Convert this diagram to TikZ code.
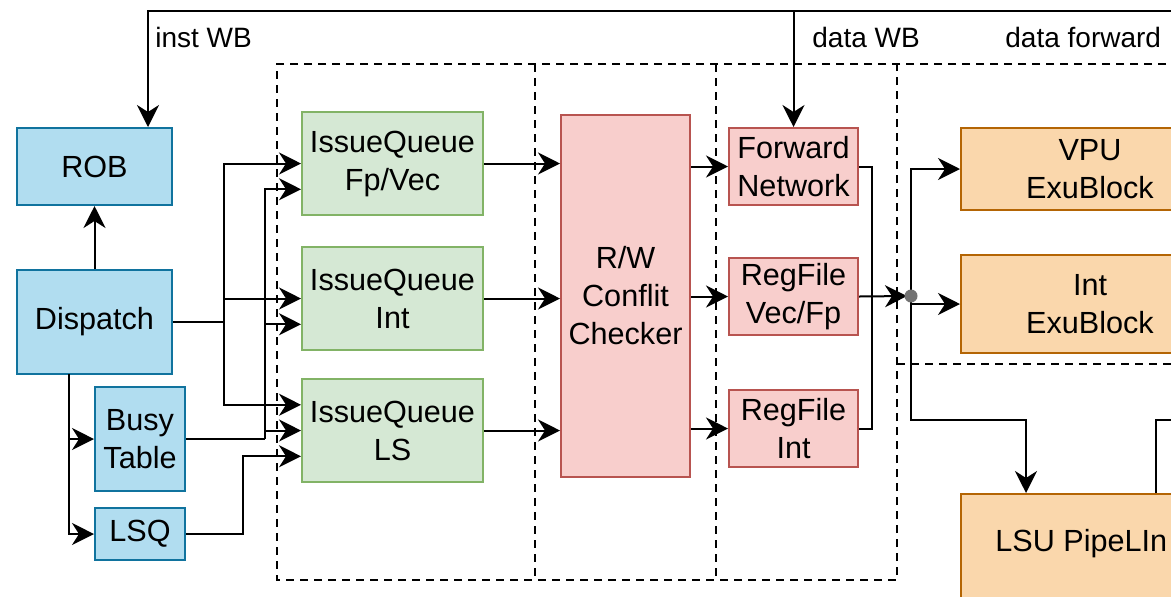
\documentclass[tikz,border=0pt]{standalone}
\usepackage{fontspec}
\setmainfont{Liberation Sans}
\usepackage{xcolor}
\usetikzlibrary{arrows.meta,calc}

\definecolor{blfill}{HTML}{B1DDF0}
\definecolor{bldraw}{HTML}{10739E}
\definecolor{gnfill}{HTML}{D5E8D4}
\definecolor{gndraw}{HTML}{82B366}
\definecolor{rdfill}{HTML}{F8CECC}
\definecolor{rddraw}{HTML}{B85450}
\definecolor{orfill}{HTML}{FAD7AC}
\definecolor{ordraw}{HTML}{B46504}

\begin{document}
\begin{tikzpicture}[x=0.5pt,y=-0.5pt,
            blk/.style = {draw, line width=1pt, align=center, inner sep=0pt,
                        font=\fontsize{15.3}{19}\selectfont},
            ctl/.style = {blk, fill=blfill, draw=bldraw},
            iq/.style = {blk, fill=gnfill, draw=gndraw,
                        minimum width=90.5pt, minimum height=51.5pt},
            rf/.style = {blk, fill=rdfill, draw=rddraw,
                        minimum width=64.5pt, minimum height=38.5pt},
            exu/.style = {blk, fill=orfill, draw=ordraw, minimum width=129pt},
            lbl/.style = {anchor=west, inner sep=0pt,
                        font=\fontsize{14}{17}\selectfont},
            arr/.style = {line width=1pt,
                        -{Stealth[length=11pt,width=11pt,inset=3.5pt]}},
            wire/.style = {line width=1pt},
            joint/.style = {circle, fill=black!55, inner sep=0pt, minimum size=6.5pt},
            dashline/.style = {line width=1pt, dash pattern=on 4pt off 3pt}]
            \useasboundingbox (0,0) rectangle (1171,596);
            \clip (0,0) rectangle (1171,596);

            % Stage boxes
            \draw[dashline] (1180,64) -- (277,64) -- (277,580) -- (897,580) -- (897,64);
            \draw[dashline] (535,64) -- (535,580);
            \draw[dashline] (716,64) -- (716,580);
            \draw[dashline] (897,364) -- (1180,364);

            % Dispatch side
            \node[ctl, minimum width=77.5pt, minimum height=38.5pt] (rob) at (94.5,166.5) {ROB};
            \node[ctl, minimum width=77.5pt, minimum height=52pt] (disp) at (94.5,322) {Dispatch};
            \node[ctl, minimum width=45pt, minimum height=52pt] (busy) at (140,439) {Busy\\Table};
            \node[ctl, minimum width=45pt, minimum height=26pt] (lsq) at (140,534) {LSQ};

            % Issue queues
            \node[iq] (iqfp) at (392.5,163.5) {IssueQueue\\Fp/Vec};
            \node[iq] (iqint) at (392.5,298.5) {IssueQueue\\Int};
            \node[iq] (iqls) at (392.5,430.5) {IssueQueue\\LS};

            % Read stage
            \node[blk, fill=rdfill, draw=rddraw, minimum width=64.5pt, minimum height=181pt] (rw) at (625.5,296) {R/W\\Conflit\\Checker};
            \node[rf] (fwd) at (793.5,166.5) {Forward\\Network};
            \node[rf] (rfvec) at (793.5,296.5) {RegFile\\Vec/Fp};
            \node[rf] (rfint) at (793.5,428.5) {RegFile\\Int};

            % Exu blocks
            \node[exu, minimum height=41pt] (vpu) at (1090,169) {VPU\\ExuBlock};
            \node[exu, minimum height=49pt] (intexu) at (1090,304) {Int\\ExuBlock};
            \node[exu, minimum height=70pt, anchor=north] (lsu) at (1090,493) {};
            \node[lbl, font=\fontsize{15.3}{19}\selectfont] (lsutxt) at (995,544) {LSU PipeLIn};
            \coordinate (dot) at (911,296);

            % Write back wires
            \coordinate (topR) at (1180,11);
            \draw[arr] (topR) -| ($(rob.north east)+(-25,0)$);
            \draw[arr] (fwd.north |- topR) -- (fwd.north);
            \node[lbl] (instwb) at (155,37) {inst WB};
            \node[lbl] (datawb) at (812,37) {data WB};
            \node[lbl] (datafw) at (1005,37) {data forward};

            % Dispatch wires
            \draw[arr] (disp.north) -- (rob.south);
            \coordinate (dd) at (69,374);
            \draw[arr] (dd) |- (busy.west);
            \draw[arr] (dd) |- (lsq.west);
            \coordinate (dj) at (224,322);
            \draw[wire] (disp.east) -- (dj);
            \draw[arr] (dj) |- (iqfp.west);
            \draw[arr] (dj) |- (iqint.west);
            \draw[arr] (dj) |- ($(iqls.west)+(0,-25.75)$);
            \coordinate (bj) at (265,439);
            \draw[wire] (busy.east) -- (bj);
            \draw[arr] (bj) |- ($(iqfp.west)+(0,25.75)$);
            \draw[arr] (bj) |- ($(iqint.west)+(0,25.75)$);
            \draw[arr] (bj) |- (iqls.west);
            \draw[arr] (lsq.east) -- (243,534) |- ($(iqls.west)+(0,25.75)$);

            % Issue to read
            \draw[arr] (iqfp.east) -- (iqfp.east -| rw.west);
            \draw[arr] (iqint.east) -- (iqint.east -| rw.west);
            \draw[arr] (iqls.east) -- (iqls.east -| rw.west);
            \draw[arr] (rw.east |- fwd.west) -- (fwd.west);
            \draw[arr] (rw.east |- rfvec.west) -- (rfvec.west);
            \draw[arr] (rw.east |- rfint.west) -- (rfint.west);

            % Read to exu
            \draw[wire] (fwd.east) -| ($(rfint.east)+(13,0)$) -- (rfint.east);
            \draw[arr] (rfvec.east) -- ($(dot)+(-4,0)$);
            \draw[arr] (dot) |- (vpu.west);
            \draw[arr] (dot |- intexu.west) -- (intexu.west);
            \draw[arr] (dot) |- ($(lsu.north west)+(66,-73)$) -- ($(lsu.north west)+(66,0)$);
            \draw[wire] ($(lsu.north west)+(196,0)$) |- (1180,420);
            \node[joint] (jdot) at (dot) {};
        \end{tikzpicture}
\end{document}
